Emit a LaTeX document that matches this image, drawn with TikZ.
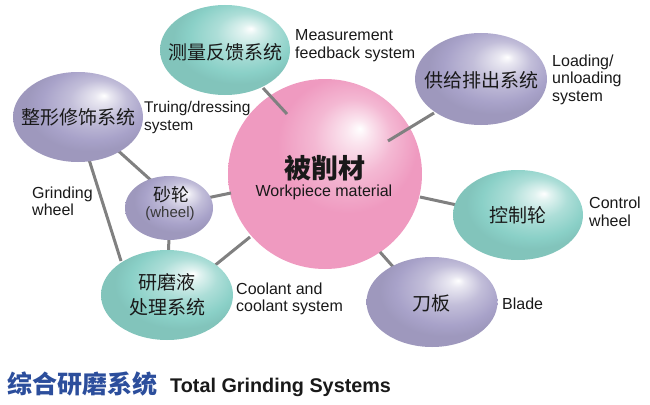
\documentclass[tikz,border=0pt]{standalone}
\usepackage{fontspec}
\setmainfont{Liberation Sans}
\newfontfamily\cjk{Noto Sans CJK SC}
\usetikzlibrary{shapes.geometric,calc}
\definecolor{pinkC}{RGB}{239,154,192}
\definecolor{tealC}{RGB}{138,208,199}
\definecolor{purpC}{RGB}{168,162,201}
\definecolor{titleblue}{RGB}{44,78,156}
\definecolor{connC}{RGB}{128,128,128}
\definecolor{txtC}{RGB}{25,25,25}
\pgfdeclareradialshading{pinkshade}{\pgfpoint{9bp}{12bp}}{color(0bp)=(white); color(3bp)=(pinkC!25!white); color(10bp)=(pinkC!70!white); color(18bp)=(pinkC); color(50bp)=(pinkC)}
\pgfdeclareradialshading{tealshade}{\pgfpoint{10bp}{12bp}}{color(0bp)=(white); color(3bp)=(tealC!25!white); color(11bp)=(tealC!70!white); color(20bp)=(tealC); color(25bp)=(tealC!94!black); color(50bp)=(tealC!94!black)}
\pgfdeclareradialshading{purpshade}{\pgfpoint{10bp}{12bp}}{color(0bp)=(white); color(3bp)=(purpC!25!white); color(11bp)=(purpC!70!white); color(20bp)=(purpC); color(25bp)=(purpC!94!black); color(50bp)=(purpC!94!black)}
\pgfdeclarelayer{bg}
\pgfdeclarelayer{mid}
\pgfsetlayers{bg,mid,main}
\tikzset{
  bubble/.style={ellipse, inner sep=0pt, minimum width=130pt, minimum height=90pt},
  tealb/.style={bubble, shade, shading=tealshade},
  purpb/.style={bubble, shade, shading=purpshade},
  cjkt/.style={font=\cjk\fontsize{19}{24}\selectfont, align=center, text=txtC, inner sep=0pt},
  lbl/.style={anchor=west, align=left, font=\fontsize{16}{17.5}\selectfont, inner sep=0pt, text=txtC},
  conn/.style={draw=connC, line width=3pt},
}
\begin{document}
\begin{tikzpicture}[x=1pt,y=-1pt]
\useasboundingbox (0,0) rectangle (650,404);
\begin{pgfonlayer}{bg}
\node[ellipse, inner sep=0pt, minimum width=194pt, minimum height=190pt, shade, shading=pinkshade] (work) at (325,174) {};
\end{pgfonlayer}
\node[font=\cjk\bfseries\fontsize{27}{30}\selectfont, text=txtC] (workcn) at (325,168) {被削材};
\node[font=\fontsize{16}{18}\selectfont, text=txtC] (worken) at (324,192) {Workpiece material};

\node[tealb] (meas) at (225,50) {};
\node[purpb, minimum width=132pt, minimum height=92pt] (load) at (481,79) {};
\node[purpb] (true) at (78,117) {};
\node[purpb, minimum width=88pt, minimum height=64pt] (wheel) at (169,208) {};
\node[tealb, minimum width=132pt] (cool) at (167,295) {};
\node[tealb] (ctrl) at (518,215) {};
\node[purpb, minimum width=131pt] (blade) at (432,302) {};

\node[cjkt] (measT) at (225,52) {测量反馈系统};
\node[cjkt] (loadT) at (481,80) {供给排出系统};
\node[cjkt] (trueT) at (78,117) {整形修饰系统};
\node[cjkt, font=\cjk\fontsize{18}{19}\selectfont] (wheelT1) at (171,195) {砂轮};
\node[inner sep=0pt, font=\fontsize{15}{15}\selectfont, text=black!78] (wheelT2) at (170,214) {(wheel)};
\node[cjkt, font=\cjk\fontsize{19}{25}\selectfont] (coolT) at (167,295) {研磨液\\处理系统};
\node[cjkt] (ctrlT) at (518,215) {控制轮};
\node[cjkt] (bladeT) at (431,303) {刀板};

\begin{pgfonlayer}{mid}
\draw[conn] ($(meas)+(38,38)$) -- ($(work)+(-38,-60)$);
\draw[conn] ($(load)+(-47,34)$) -- ($(work)+(63,-33)$);
\draw[conn] ($(true)+(36,30)$) -- ($(wheel)+(-15,-25)$);
\draw[conn] ($(true)+(8,33)$) -- ($(cool)+(-46,-34)$);
\draw[conn] ($(wheel)+(33,-9)$) -- ($(work)+(-94,19)$);
\draw[conn] ($(wheel)+(0,30)$) -- ($(cool)+(1,-33)$);
\draw[conn] ($(cool)+(36,-20)$) -- ($(work)+(-75,63)$);
\draw[conn] ($(work)+(95,23)$) -- ($(ctrl)+(-52,-8)$);
\draw[conn] ($(work)+(55,78)$) -- ($(blade)+(-29,-24)$);
\end{pgfonlayer}

\node[lbl] (measL) at (295,45.5) {Measurement\\feedback system};
\node[lbl, font=\fontsize{15.5}{18}\selectfont] (trueL) at (144,117.5) {Truing/dressing\\system};
\node[lbl] (loadL) at (552,79.5) {Loading/\\unloading\\system};
\node[lbl] (wheelL) at (32,201.5) {Grinding\\wheel};
\node[lbl] (coolL) at (236,299) {Coolant and\\coolant system};
\node[lbl] (ctrlL) at (589,212) {Control\\wheel};
\node[lbl] (bladeL) at (502,304) {Blade};

\node[anchor=west, inner sep=0pt, font=\cjk\bfseries\fontsize{25}{28}\selectfont, text=titleblue] (titlecn) at (7,384) {综合研磨系统};
\node[anchor=base west, inner sep=0pt, font=\bfseries\fontsize{19.8}{22}\selectfont, text=txtC] (titleen) at (170,392) {Total Grinding Systems};
\end{tikzpicture}
\end{document}
